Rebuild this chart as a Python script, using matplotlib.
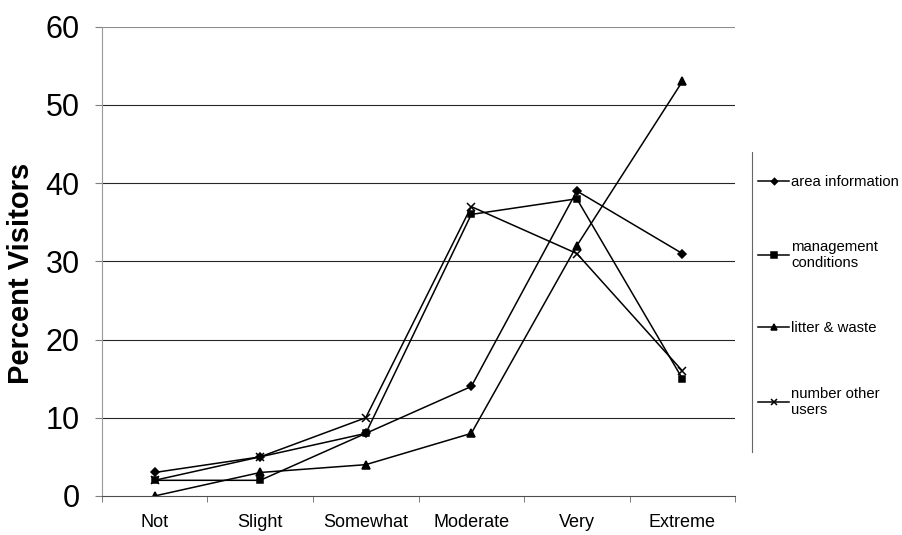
import numpy as np
import matplotlib
matplotlib.use("Agg")
import matplotlib.pyplot as plt
from matplotlib.lines import Line2D

plt.rcParams['font.family'] = ['Liberation Sans', 'DejaVu Sans']

# Données
categories = ["Not", "Slight", "Somewhat", "Moderate", "Very", "Extreme"]
area_information = [3, 5, 8, 14, 39, 31]
management_conditions = [2, 2, 8, 36, 38, 15]
litter_waste = [0, 3, 4, 8, 32, 53]
number_other_users = [2, 5, 10, 37, 31, 16]

series = [
    ("area information", area_information, "D", 4),
    ("management\nconditions", management_conditions, "s", 5),
    ("litter & waste", litter_waste, "^", 5.5),
    ("number other\nusers", number_other_users, "x", 6),
]

fig = plt.figure(figsize=(9.02, 5.35), dpi=100)
ax = fig.add_axes([0.113, 0.073, 0.702, 0.877])

x = np.arange(len(categories))
for label, vals, mk, ms in series:
    ax.plot(x, vals, color="black", linewidth=1.1, marker=mk, markersize=ms,
            markeredgewidth=1.1, label=label)

ax.set_xlim(-0.5, len(categories) - 0.5)
ax.set_ylim(0, 60)
ax.set_yticks(range(0, 61, 10))
ax.set_xticks(x)
ax.set_xticklabels(categories, fontsize=13)
ax.set_xticks(np.arange(-0.5, len(categories)), minor=True)
ax.tick_params(axis="x", which="major", length=0, pad=13)
ax.tick_params(axis="x", which="minor", length=4, color="0.4", direction="out")
ax.tick_params(axis="y", labelsize=22, length=5, color="0.5", pad=11)

for v in range(10, 61, 10):
    col = "0.55" if v == 60 else "0.15"
    ax.axhline(v, color=col, linewidth=0.8, zorder=0)

for s in ["top", "right"]:
    ax.spines[s].set_visible(False)
ax.spines["left"].set_color("0.6")
ax.spines["left"].set_linestyle((0, (2, 1)))
ax.spines["left"].set_linewidth(0.8)
ax.spines["bottom"].set_color("0.3")
ax.spines["bottom"].set_linewidth(0.8)

ax.set_ylabel("Percent Visitors", fontsize=21, fontweight="bold")
ax.yaxis.set_label_coords(-0.105, 0.475)

fig.legend(loc="center left", bbox_to_anchor=(0.8404, 0.447), frameon=False,
           fontsize=10.7, handlelength=2.1, handletextpad=0.15, labelspacing=3.45,
           borderpad=0, borderaxespad=0, markerscale=0.8)

fig.add_artist(Line2D([0.834, 0.834], [0.155, 0.716], color="0.4",
                      linewidth=0.8, transform=fig.transFigure))

fig.savefig("out.png", dpi=100)
